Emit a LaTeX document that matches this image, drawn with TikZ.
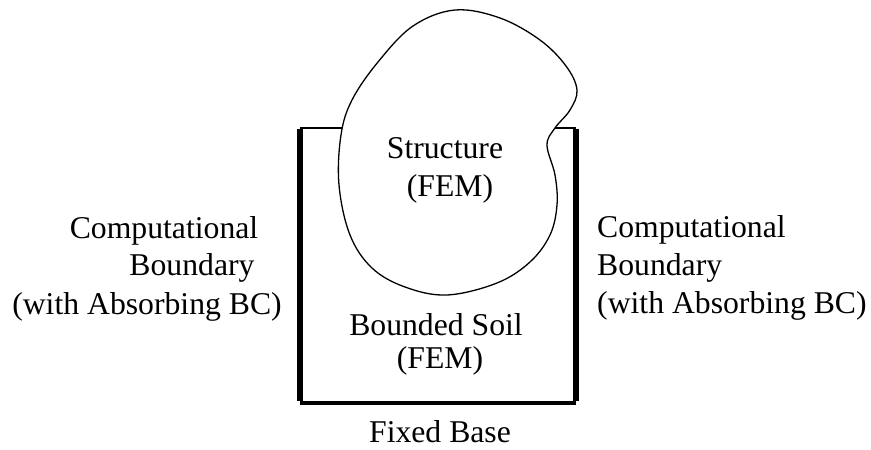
\documentclass[tikz,border=0pt]{standalone}
\usepackage{fontspec}
\setmainfont{Liberation Serif}
\begin{document}
\begin{tikzpicture}[x=1pt,y=-1pt,
  lbl/.style={inner sep=0pt,font=\fontsize{31.7}{36}\selectfont},
  wall/.style={line width=6.5pt},
  thin edge/.style={line width=1.4pt},
  base edge/.style={line width=3.5pt}]
\useasboundingbox (0,0) rectangle (871,450);
% soil box corners
\coordinate (tl) at (300,128);
\coordinate (tr) at (576,128);
\coordinate (bl) at (300,403);
\coordinate (br) at (576,403);
% box: thin top, thick sides, medium base
\draw[thin edge] (tl) -- (tr);
\draw[base edge] (bl) -- (br);
\draw[wall] ([yshift=-0.7pt]tl) -- ([yshift=1.7pt]bl);
\draw[wall] ([yshift=-0.7pt]tr) -- ([yshift=1.7pt]br);
% structure outline
\draw[line width=1.3pt,fill=white] plot[smooth cycle,tension=0.6] coordinates {
  (455,10) (500,18) (540,40) (566,66) (577,90) (570,110) (555,128) (547,145)
  (555,175) (557,205) (550,235) (530,262) (497,283) (447,295) (405,287)
  (372,268) (350,235) (339,185) (341,135) (352,100) (378,62) (413,26)};
% labels
\node[lbl,anchor=base] (st) at (445,158) {Structure};
\node[lbl,anchor=base] (stf) at (450,196) {(FEM)};
\node[lbl,anchor=base] (so) at (436,335) {Bounded Soil};
\node[lbl,anchor=base] (sof) at (440,368) {(FEM)};
\node[lbl,anchor=base] (fb) at (440,442) {Fixed Base};
\node[lbl,anchor=base] (l1) at (164,238) {Computational};
\node[lbl,anchor=base] (l2) at (192,275) {Boundary};
\node[lbl,anchor=base] (l3) at (147,314) {(with Absorbing BC)};
\node[lbl,anchor=base west] (r1) at (597,237) {Computational};
\node[lbl,anchor=base west] (r2) at (597,275) {Boundary};
\node[lbl,anchor=base west] (r3) at (597,313) {(with Absorbing BC)};
\end{tikzpicture}
\end{document}
